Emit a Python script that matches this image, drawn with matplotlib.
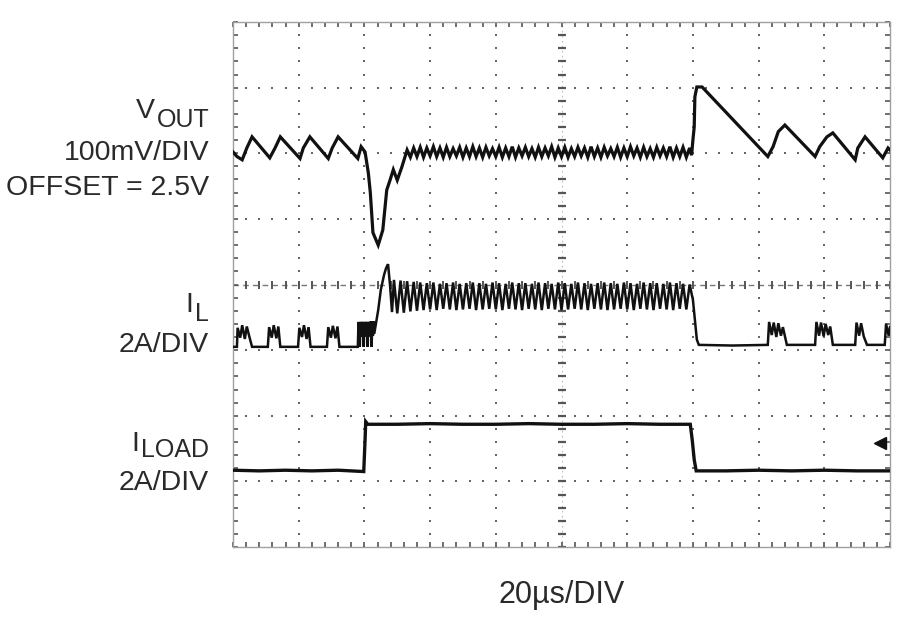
import matplotlib
matplotlib.use("Agg")
import matplotlib.pyplot as plt
import numpy as np

# ---------------- data (time in divisions, 20 us/DIV; amplitude in screen divisions) -------------
VOUT_T = [0.00, 0.06, 0.14, 0.21, 0.29, 0.56, 0.64, 0.72, 1.02, 1.07, 1.17, 1.45, 1.51, 1.60,
          1.90, 1.95, 2.01, 2.06, 2.09, 2.13, 2.21, 2.28, 2.34, 2.39, 2.44, 2.50, 2.57, 2.62,
          2.65, 2.70, 2.75, 2.80, 2.85, 2.90, 2.95, 3.00, 3.05, 3.10,
          3.15, 3.20, 3.25, 3.30, 3.35, 3.40, 3.45, 3.50, 3.55, 3.60,
          3.65, 3.70, 3.75, 3.80, 3.85, 3.90, 3.95, 4.00, 4.05, 4.10,
          4.15, 4.20, 4.25, 4.30, 4.35, 4.40, 4.45, 4.50, 4.55, 4.60,
          4.65, 4.70, 4.75, 4.80, 4.85, 4.90, 4.95, 5.00, 5.05, 5.10,
          5.15, 5.20, 5.25, 5.30, 5.35, 5.40, 5.45, 5.50, 5.55, 5.60,
          5.65, 5.70, 5.75, 5.80, 5.85, 5.90, 5.95, 6.00, 6.05, 6.10,
          6.15, 6.20, 6.25, 6.30, 6.35, 6.40, 6.45, 6.50, 6.55, 6.60,
          6.65, 6.70, 6.75, 6.80, 6.85, 6.90, 6.95,
          6.98, 7.00, 7.02, 7.03, 7.06, 7.14, 7.64, 8.14, 8.22, 8.30, 8.40, 8.86, 8.93, 9.04,
          9.13, 9.47, 9.51, 9.62, 9.89, 9.97, 10.00]
VOUT_Y = [6.02, 5.95, 5.90, 6.08, 6.25, 5.93, 6.08, 6.25, 5.92, 6.08, 6.25, 5.92, 6.08, 6.25,
          5.92, 6.10, 6.02, 5.70, 5.40, 4.79, 4.60, 4.83, 5.44, 5.59, 5.75, 5.59, 5.79, 5.95,
          6.05, 5.94, 6.08, 5.95, 6.09, 5.94, 6.08, 5.96, 6.10, 5.95,
          6.08, 5.94, 6.09, 5.95, 6.07, 5.96, 6.09, 5.94, 6.08, 5.95,
          6.10, 5.95, 6.08, 5.94, 6.09, 5.96, 6.07, 5.95, 6.09, 5.94,
          6.08, 5.95, 6.10, 5.94, 6.08, 5.96, 6.09, 5.95, 6.07, 5.94,
          6.09, 5.95, 6.08, 5.96, 6.10, 5.94, 6.08, 5.95, 6.09, 5.94,
          6.07, 5.95, 6.09, 5.96, 6.08, 5.94, 6.10, 5.95, 6.08, 5.94,
          6.09, 5.96, 6.07, 5.95, 6.09, 5.94, 6.08, 5.95, 6.10, 5.96,
          6.08, 5.94, 6.09, 5.95, 6.07, 5.94, 6.09, 5.96, 6.08, 5.95,
          6.10, 5.94, 6.08, 5.95, 6.09, 5.94, 6.08,
          5.97, 6.20, 6.40, 6.86, 7.01, 7.01, 6.48, 5.95, 6.10, 6.33, 6.43, 5.95, 6.10, 6.25,
          6.31, 5.90, 6.08, 6.25, 5.93, 6.08, 6.05]

IL_T = [0.00, 0.06, 0.07, 0.11, 0.14, 0.18, 0.21, 0.25, 0.29,
        0.53, 0.55, 0.59, 0.62, 0.66, 0.69, 0.72,
        0.99, 1.01, 1.05, 1.08, 1.12, 1.15, 1.18,
        1.43, 1.45, 1.49, 1.52, 1.56, 1.59, 1.62,
        1.90,
        1.91, 1.92, 1.93, 1.94, 1.95, 1.96, 1.97, 1.98, 1.99, 2.00,
        2.01, 2.02, 2.03, 2.04, 2.05, 2.06, 2.07, 2.08, 2.09, 2.10,
        2.11, 2.12, 2.13, 2.14, 2.15, 2.16,
        2.21, 2.25, 2.30, 2.33, 2.36, 2.39, 2.42,
        2.45, 2.50, 2.55, 2.60, 2.65, 2.70, 2.75, 2.80, 2.85, 2.90,
        2.95, 3.00, 3.05, 3.10, 3.15, 3.20, 3.25, 3.30, 3.35, 3.40,
        3.45, 3.50, 3.55, 3.60, 3.65, 3.70, 3.75, 3.80, 3.85, 3.90,
        3.95, 4.00, 4.05, 4.10, 4.15, 4.20, 4.25, 4.30, 4.35, 4.40,
        4.45, 4.50, 4.55, 4.60, 4.65, 4.70, 4.75, 4.80, 4.85, 4.90,
        4.95, 5.00, 5.05, 5.10, 5.15, 5.20, 5.25, 5.30, 5.35, 5.40,
        5.45, 5.50, 5.55, 5.60, 5.65, 5.70, 5.75, 5.80, 5.85, 5.90,
        5.95, 6.00, 6.05, 6.10, 6.15, 6.20, 6.25, 6.30, 6.35, 6.40,
        6.45, 6.50, 6.55, 6.60, 6.65, 6.70, 6.75, 6.80, 6.85, 6.90,
        6.95,
        7.00, 7.03, 7.06, 7.09, 7.60, 8.14,
        8.16, 8.20, 8.23, 8.27, 8.30, 8.34, 8.37, 8.43,
        8.86, 8.88, 8.92, 8.95, 8.99, 9.02, 9.06, 9.09, 9.13,
        9.47, 9.49, 9.53, 9.56, 9.60, 9.65,
        9.92, 9.94, 9.98, 10.00]
IL_Y = [3.05, 3.05, 3.34, 3.19, 3.38, 3.17, 3.36, 3.20, 3.05,
        3.05, 3.35, 3.19, 3.38, 3.18, 3.36, 3.05,
        3.05, 3.34, 3.20, 3.38, 3.17, 3.35, 3.05,
        3.05, 3.35, 3.19, 3.37, 3.18, 3.36, 3.05,
        3.05,
        3.43, 3.21, 3.05, 3.43, 3.21, 3.43, 3.22, 3.43, 3.05, 3.43,
        3.21, 3.43, 3.22, 3.43, 3.05, 3.43, 3.21, 3.43, 3.22, 3.44,
        3.05, 3.43, 3.22, 3.44, 3.25, 3.31,
        3.61, 3.92, 4.15, 4.25, 4.31, 3.99, 3.58,
        4.07, 3.56, 4.06, 3.57, 4.05, 3.59, 4.04, 3.60, 4.03, 3.61,
        4.02, 3.62, 4.03, 3.61, 4.01, 3.63, 4.02, 3.62, 4.03, 3.61,
        4.01, 3.62, 4.02, 3.63, 4.03, 3.61, 4.02, 3.62, 4.01, 3.63,
        4.03, 3.62, 4.02, 3.61, 4.01, 3.63, 4.03, 3.62, 4.02, 3.61,
        4.02, 3.63, 4.01, 3.62, 4.03, 3.61, 4.02, 3.63, 4.01, 3.62,
        4.03, 3.61, 4.02, 3.62, 4.01, 3.63, 4.03, 3.62, 4.02, 3.61,
        4.01, 3.63, 4.02, 3.62, 4.03, 3.61, 4.02, 3.62, 4.01, 3.63,
        4.03, 3.62, 4.02, 3.61, 4.01, 3.63, 4.03, 3.62, 4.02, 3.61,
        4.02, 3.63, 4.01, 3.62, 4.03, 3.61, 4.02, 3.63, 4.01, 3.62,
        4.00,
        3.77, 3.46, 3.16, 3.08, 3.07, 3.08,
        3.43, 3.23, 3.42, 3.20, 3.41, 3.22, 3.35, 3.08,
        3.08, 3.43, 3.22, 3.42, 3.21, 3.40, 3.23, 3.36, 3.08,
        3.08, 3.42, 3.22, 3.41, 3.21, 3.08,
        3.08, 3.40, 3.22, 3.35]

ILOAD_T = [0.00, 0.40, 0.80, 1.20, 1.60, 1.99, 2.01, 2.02, 2.05, 2.50, 3.00, 3.50, 4.00, 4.50,
           5.00, 5.50, 6.00, 6.50, 6.96, 6.99, 7.02, 7.05, 7.50, 8.00, 8.50, 9.00, 9.50, 10.00]
ILOAD_Y = [1.17, 1.16, 1.17, 1.16, 1.17, 1.15, 1.63, 1.91, 1.87, 1.87, 1.88, 1.87, 1.87, 1.88,
           1.87, 1.87, 1.88, 1.87, 1.87, 1.63, 1.33, 1.16, 1.16, 1.17, 1.16, 1.17, 1.16, 1.16]

MARKER_T = [9.85]
MARKER_Y = [1.585]

N_XDIV = 10
N_YDIV = 8

LABELS = {
    "vout_main": "V", "vout_sub": "OUT",
    "vout_scale": "100mV/DIV", "vout_offset": "OFFSET = 2.5V",
    "il_main": "I", "il_sub": "L", "il_scale": "2A/DIV",
    "iload_main": "I", "iload_sub": "LOAD", "iload_scale": "2A/DIV",
    "time": "20\u00b5s/DIV",
}

# ---------------- figure -------------
W, H = 900, 624
fig = plt.figure(figsize=(W / 100, H / 100), dpi=100)
fig.patch.set_facecolor("white")
ax = fig.add_axes([233 / W, 1 - 547 / H, (890 - 233) / W, (547 - 22) / H])
ax.set_xlim(0, N_XDIV)
ax.set_ylim(0, N_YDIV)

for s in ax.spines.values():
    s.set_color("#a0a0a0")
    s.set_linewidth(1.0)

ax.set_xticks(np.arange(0, N_XDIV + 0.01, 1))
ax.set_yticks(np.arange(0, N_YDIV + 0.01, 1))
ax.set_xticks(np.arange(0, N_XDIV + 0.01, 0.2), minor=True)
ax.set_yticks(np.arange(0, N_YDIV + 0.01, 0.2), minor=True)
ax.tick_params(which="both", direction="in", top=True, right=True, length=3.5,
               width=1.2, color="#555555", labelbottom=False, labelleft=False)

# dotted graticule
fine_x = np.arange(0, N_XDIV + 0.01, 0.2)
fine_y = np.arange(0, N_YDIV + 0.01, 0.2)
for gx in range(1, N_XDIV):
    if gx == 5:
        continue
    ax.scatter(np.full_like(fine_y, gx), fine_y, marker="s", s=3.2, color="#666666",
               linewidths=0, zorder=1)
for gy in range(1, N_YDIV):
    if gy == 4:
        continue
    ax.scatter(fine_x, np.full_like(fine_x, gy), marker="s", s=3.2, color="#666666",
               linewidths=0, zorder=1)
# centre axes with tick marks
ax.plot([5, 5], [0, N_YDIV], color="#bbbbbb", lw=0.8, linestyle=(0, (1.5, 3)), zorder=1)
ax.plot(np.full_like(fine_y, 5), fine_y, linestyle="none", marker="_", markersize=6,
        markeredgewidth=1.6, color="#555555", zorder=1)
ax.plot([0, N_XDIV], [4, 4], color="#777777", lw=1.0, linestyle=(0, (4, 3)), zorder=1)
ax.plot(fine_x, np.full_like(fine_x, 4), linestyle="none", marker="|", markersize=6,
        markeredgewidth=1.4, color="#555555", zorder=1)

# traces
trace_kw = dict(color="#111111", solid_joinstyle="miter", zorder=3)
ax.plot(VOUT_T, VOUT_Y, lw=2.3, **trace_kw)
ax.plot(IL_T, IL_Y, lw=1.8, **trace_kw)
ax.plot(ILOAD_T, ILOAD_Y, lw=2.4, **trace_kw)
ax.plot(MARKER_T, MARKER_Y, marker="<", markersize=8, color="#111111", linestyle="none",
        zorder=3)

# ---------------- text -------------
FAM = ["Liberation Sans", "DejaVu Sans"]
FS = 20.5
SUBFS = 18
TC = "#2a2a2a"
renderer = fig.canvas.get_renderer()


def ftext(xpx, ypx, s, size=FS, ha="right"):
    return fig.text(xpx / W, 1 - ypx / H, s, ha=ha, va="baseline", fontsize=size,
                    family=FAM, color=TC)


def sub_label(main, sub, xright, base_main, base_sub):
    t = ftext(xright, base_sub, sub, size=SUBFS)
    bb = t.get_window_extent(renderer)
    ftext(bb.x0 - 2, base_main, main)


sub_label(LABELS["vout_main"], LABELS["vout_sub"], 210, 118, 127)
ftext(210, 160, LABELS["vout_scale"])
ftext(209, 195, LABELS["vout_offset"])
sub_label(LABELS["il_main"], LABELS["il_sub"], 209, 312, 321)
ftext(209, 352, LABELS["il_scale"])
sub_label(LABELS["iload_main"], LABELS["iload_sub"], 209, 451, 457)
ftext(209, 490, LABELS["iload_scale"])
ftext(562, 603, LABELS["time"], size=22, ha="center")

fig.savefig("out.png", dpi=100, facecolor="white")
